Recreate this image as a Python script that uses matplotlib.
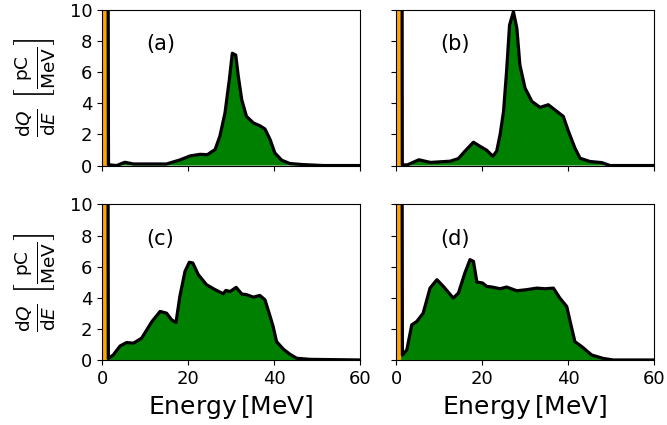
import numpy as np
import matplotlib
matplotlib.use("Agg")
import matplotlib.pyplot as plt

cut = 1.2  # boundary between orange and green fill (MeV)

E_a = [0, 1.1, 1.5, 3.4, 5.3, 7.3, 15, 18.1, 20.5, 22.8, 24.5, 26.3, 27.4, 28.6, 29.6, 30.3, 31.1,
       31.7, 32.5, 33.6, 35.2, 36.7, 37.9, 39.1, 40.2, 41.8, 43.7, 46.8, 51.5, 60]
Q_a = [60, 60, 0.05, 0.0, 0.21, 0.1, 0.1, 0.36, 0.62, 0.72, 0.7, 1.03, 1.88, 3.38, 5.5, 7.22, 7.1,
       5.73, 4.23, 3.16, 2.74, 2.56, 2.35, 1.67, 0.81, 0.34, 0.13, 0.06, 0.0, 0.0]

E_b = [0, 1.2, 1.45, 2.6, 5.3, 8.0, 12.6, 14.5, 16.0, 18.0, 19.5, 21.1, 22.5, 23.4, 24.2, 25.0,
       25.7, 26.4, 27.3, 28.1, 28.8, 30.0, 31.6, 33.5, 35.4, 37.4, 38.9, 40.1, 41.6, 42.8, 45.1,
       47.8, 49.8, 60]
Q_b = [60, 60, 0.05, 0.04, 0.37, 0.2, 0.28, 0.45, 0.92, 1.5, 1.24, 0.98, 0.6, 0.92, 1.99, 3.48,
       6.04, 9.04, 9.89, 8.82, 6.47, 4.98, 4.12, 3.74, 3.91, 3.48, 3.16, 2.2, 1.13, 0.47, 0.26,
       0.19, 0.0, 0.0]

E_c = [0, 1.1, 1.47, 2.6, 4.2, 5.7, 7.3, 9.2, 11.6, 13.5, 15.0, 16.2, 17.2, 18.1, 19.3, 20.3, 21.1,
       22.4, 24.3, 26.3, 28.2, 28.8, 29.8, 31.2, 32.5, 33.6, 35.2, 36.7, 37.9, 39.1, 39.8, 40.6,
       42.2, 43.7, 45.3, 48.4, 60]
Q_c = [60, 60, 0.1, 0.32, 0.9, 1.12, 1.08, 1.4, 2.47, 3.12, 3.01, 2.58, 2.41, 4.09, 5.7, 6.28, 6.24,
       5.48, 4.84, 4.52, 4.26, 4.47, 4.4, 4.67, 4.24, 4.2, 4.04, 4.15, 3.87, 2.8, 2.15, 1.18,
       0.69, 0.37, 0.11, 0.04, 0.0]

E_d = [0, 1.16, 1.47, 2.5, 3.65, 4.8, 6.3, 7.9, 9.5, 11.0, 13.3, 14.5, 16.0, 17.2, 18.0, 18.8,
       20.1, 21.1, 22.3, 24.2, 25.7, 28.1, 30.4, 32.7, 34.7, 36.6, 38.1, 39.7, 40.5, 41.6, 43.2,
       45.5, 48.2, 50.5, 60]
Q_d = [60, 60, 0.32, 0.65, 2.26, 2.47, 3.01, 4.62, 5.16, 4.73, 3.98, 4.3, 5.59, 6.45, 6.34, 5.01,
       4.95, 4.73, 4.69, 4.58, 4.69, 4.45, 4.52, 4.62, 4.58, 4.62, 3.98, 3.44, 2.47, 1.18, 0.86,
       0.32, 0.1, 0.0, 0.0]

panels = [("(a)", E_a, Q_a), ("(b)", E_b, Q_b), ("(c)", E_c, Q_c), ("(d)", E_d, Q_d)]
x_ticks = [0, 20, 40, 60]
y_ticks = [0, 2, 4, 6, 8, 10]

fig, axes = plt.subplots(2, 2, figsize=(6.67, 4.25), dpi=100, sharex=True, sharey=True)
fig.subplots_adjust(left=0.153, right=0.9805, top=0.9765, bottom=0.153, wspace=0.14, hspace=0.25)

ylab = r"$\frac{\mathrm{d}Q}{\mathrm{d}E}\ \left[\frac{\mathrm{pC}}{\mathrm{MeV}}\right]$"

for ax, (lab, E, Q) in zip(axes.flat, panels):
    E = np.array(E, dtype=float)
    Q = np.array(Q, dtype=float)
    ax.fill_between(E, 0, Q, where=E <= cut + 0.05, color="orange", lw=0, interpolate=False)
    ax.fill_between(E, 0, Q, where=E >= E[1], color="green", lw=0)
    ax.plot(E, Q, color="black", lw=2.3, solid_joinstyle="round", solid_capstyle="round")
    ax.set_xlim(0, 60)
    ax.set_ylim(0, 10)
    ax.set_xticks(x_ticks)
    ax.set_yticks(y_ticks)
    ax.tick_params(labelsize=13)
    ax.text(0.17, 0.78, lab, transform=ax.transAxes, fontsize=15, va="center", ha="left")

for ax in axes[:, 0]:
    ax.set_ylabel(ylab, fontsize=19, labelpad=9)
for ax in axes[1, :]:
    ax.set_xlabel(r"Energy$\,$[MeV]", fontsize=18)

fig.savefig("out.png", dpi=100)
